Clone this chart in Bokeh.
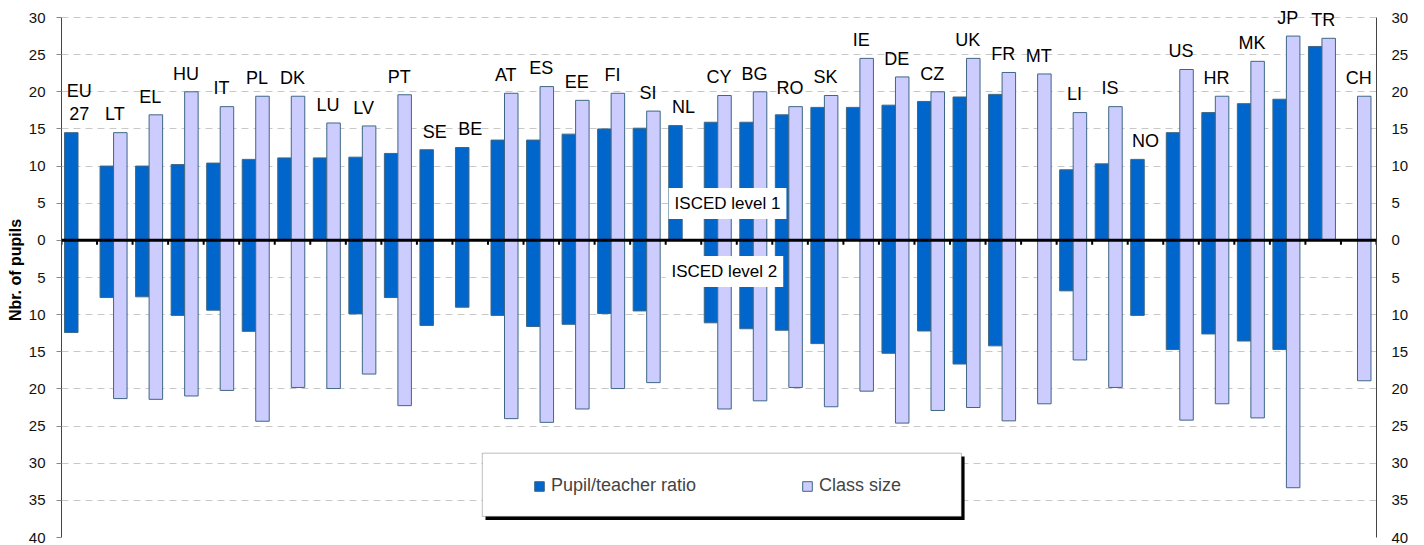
import numpy as np
from bokeh.plotting import figure
from bokeh.models import (ColumnDataSource, LinearAxis, Range1d, FixedTicker,
                          CustomJSTickFormatter, Span, Label, Legend, LegendItem,
                          BoxAnnotation, Title)
from bokeh.core.properties import value
from bokeh.embed import file_html
from bokeh.resources import INLINE

nan = float("nan")

countries = ["EU 27", "LT", "EL", "HU", "IT", "PL", "DK", "LU", "LV", "PT", "SE", "BE",
             "AT", "ES", "EE", "FI", "SI", "NL", "CY", "BG", "RO", "SK", "IE", "DE",
             "CZ", "UK", "FR", "MT", "LI", "IS", "NO", "US", "HR", "MK", "JP", "TR", "CH"]
country_labels = ["EU\n27" if c == "EU 27" else c for c in countries]

# ISCED level 1 (upper half)
ptr_isced1 = [14.5, 10.0, 10.0, 10.2, 10.4, 10.9, 11.1, 11.1, 11.2, 11.7, 12.2, 12.5,
              13.5, 13.5, 14.3, 15.0, 15.1, 15.45, 15.9, 15.9, 16.9, 17.9, 17.9, 18.2,
              18.7, 19.3, 19.65, nan, 9.5, 10.3, 10.9, 14.5, 17.2, 18.4, 19.0, 26.1, nan]
class_isced1 = [nan, 14.5, 16.9, 20.0, 18.0, 19.4, 19.4, 15.8, 15.4, 19.6, nan, nan,
                19.8, 20.7, 18.85, 19.8, 17.4, nan, 19.5, 20.0, 18.0, 19.5, 24.5, 22.0,
                20.0, 24.5, 22.6, 22.4, 17.2, 18.0, nan, 23.0, 19.4, 24.1, 27.5, 27.2, 19.4]

# ISCED level 2 (lower half)
ptr_isced2 = [12.4, 7.7, 7.6, 10.1, 9.4, 12.25, nan, nan, 9.9, 7.7, 11.45, 9.0,
              10.1, 11.6, 11.3, 9.85, 9.5, nan, 11.1, 11.9, 12.1, 13.9, nan, 15.2,
              12.2, 16.65, 14.2, nan, 6.8, nan, 10.1, 14.7, 12.6, 13.55, 14.7, nan, nan]
class_isced2 = [nan, 21.3, 21.4, 20.95, 20.2, 24.35, 19.8, 19.95, 18.0, 22.25, nan, nan,
                24.0, 24.5, 22.7, 19.95, 19.15, nan, 22.7, 21.6, 19.8, 22.4, 20.3, 24.6,
                22.9, 22.5, 24.3, 22.0, 16.1, 19.8, nan, 24.2, 22.0, 23.9, 33.3, nan, 18.9]

y_ticks = list(range(-40, 31, 5))

BLUE = "#0066CC"
LAVENDER = "#CCCCFF"
EDGE = "#3f6784"
FONT = "Liberation Sans"

n = len(countries)
idx = np.arange(n, dtype=float)
bar_w = 0.38
off_ptr = -0.225
off_cls = 0.155

p1 = np.array(ptr_isced1, dtype=float)
c1 = np.array(class_isced1, dtype=float)
p2 = np.array(ptr_isced2, dtype=float)
c2 = np.array(class_isced2, dtype=float)

src = ColumnDataSource(dict(
    x_ptr=idx + off_ptr, x_cls=idx + off_cls,
    p1=p1, c1=c1, p2=-p2, c2=-c2,
))

p = figure(width=1424, height=545,
           x_range=Range1d(-0.5, n - 0.5), y_range=Range1d(-40, 32.02),
           output_backend="svg", toolbar_location=None,
           x_axis_location=None, y_axis_location="left",
           min_border_left=61, min_border_right=48, min_border_top=2, min_border_bottom=8)
p.outline_line_color = None
p.background_fill_color = "white"
p.border_fill_color = "white"

fmt = CustomJSTickFormatter(code="return Math.abs(tick).toString();")

ax = p.yaxis[0]
ax.ticker = FixedTicker(ticks=y_ticks)
ax.formatter = fmt
ax.bounds = (-40, 30)
ax.major_label_text_font = FONT
ax.major_label_text_font_size = "15px"
ax.major_label_text_color = "#111111"
ax.axis_line_color = "#444444"
ax.major_tick_line_color = "#888888"
ax.major_tick_out = 5
ax.major_tick_in = 0
ax.minor_tick_line_color = None
ax.major_label_standoff = 11

rax = LinearAxis(ticker=FixedTicker(ticks=y_ticks), formatter=fmt, bounds=(-40, 30))
rax.major_label_text_font = FONT
rax.major_label_text_font_size = "15px"
rax.major_label_text_color = "#111111"
rax.axis_line_color = "#444444"
rax.major_tick_out = 0
rax.major_tick_in = 0
rax.minor_tick_line_color = None
rax.major_label_standoff = 15
p.add_layout(rax, "right")

p.add_layout(Title(text="Nbr. of pupils", align="center", offset=50,
                   text_font=FONT, text_font_size="16px", text_font_style="bold",
                   text_color="black", standoff=3), "left")

p.xgrid.visible = False
p.ygrid.ticker = FixedTicker(ticks=y_ticks)
p.ygrid.grid_line_color = "#c8c8c8"
p.ygrid.grid_line_dash = "7 5"
p.ygrid.grid_line_width = 1

r_ptr = p.vbar(x="x_ptr", width=bar_w, bottom=0, top="p1", source=src,
               fill_color=BLUE, line_color=EDGE, line_width=1)
r_cls = p.vbar(x="x_cls", width=bar_w, bottom=0, top="c1", source=src,
               fill_color=LAVENDER, line_color=EDGE, line_width=1)
p.vbar(x="x_ptr", width=bar_w, top=0, bottom="p2", source=src,
       fill_color=BLUE, line_color=EDGE, line_width=1)
p.vbar(x="x_cls", width=bar_w, top=0, bottom="c2", source=src,
       fill_color=LAVENDER, line_color=EDGE, line_width=1)

# country labels above the highest level-1 bar
top1 = np.fmax(np.nan_to_num(p1, nan=0.0), np.nan_to_num(c1, nan=0.0))
lab_src = ColumnDataSource(dict(x=idx, y=top1 + 1.1, text=country_labels))
p.text(x="x", y="y", text="text", source=lab_src, text_align="center",
       text_baseline="bottom", text_font=value(FONT), text_font_size="18px",
       text_color="black", text_line_height=1.15)

# zero axis with category tick marks
bounds = np.arange(n + 1) - 0.5
p.segment(x0=bounds, y0=np.zeros(n + 1), x1=bounds, y1=np.full(n + 1, -0.6),
          line_color="black", line_width=2)
p.add_layout(Span(location=0, dimension="width", line_color="black", line_width=3))

# section labels
for txt, yy, xx in [("ISCED level 1", 4.96, 18.24), ("ISCED level 2", -4.19, 18.15)]:
    p.add_layout(Label(x=xx, y=yy, text=txt, text_align="center", text_baseline="middle",
                       text_font=FONT, text_font_size="17px", text_color="black",
                       background_fill_color="white", padding=6))

# legend frame with shadow
p.add_layout(BoxAnnotation(left=11.43, right=24.91, top=-29.1, bottom=-37.64,
                           fill_color="black", fill_alpha=1, line_color=None))
p.add_layout(BoxAnnotation(left=11.34, right=24.82, top=-28.65, bottom=-37.16,
                           fill_color="white", fill_alpha=1, line_color="#222222",
                           line_width=1))
legend = Legend(items=[LegendItem(label="Pupil/teacher ratio", renderers=[r_ptr]),
                       LegendItem(label="Class size", renderers=[r_cls])],
                orientation="horizontal", location=(472, 41), padding=0, margin=0,
                spacing=105, glyph_width=12, glyph_height=12, label_standoff=6,
                label_text_font=FONT, label_text_font_size="18px",
                border_line_color=None, background_fill_alpha=0)
p.add_layout(legend)

open("out.html", "w").write(file_html(p, INLINE))
